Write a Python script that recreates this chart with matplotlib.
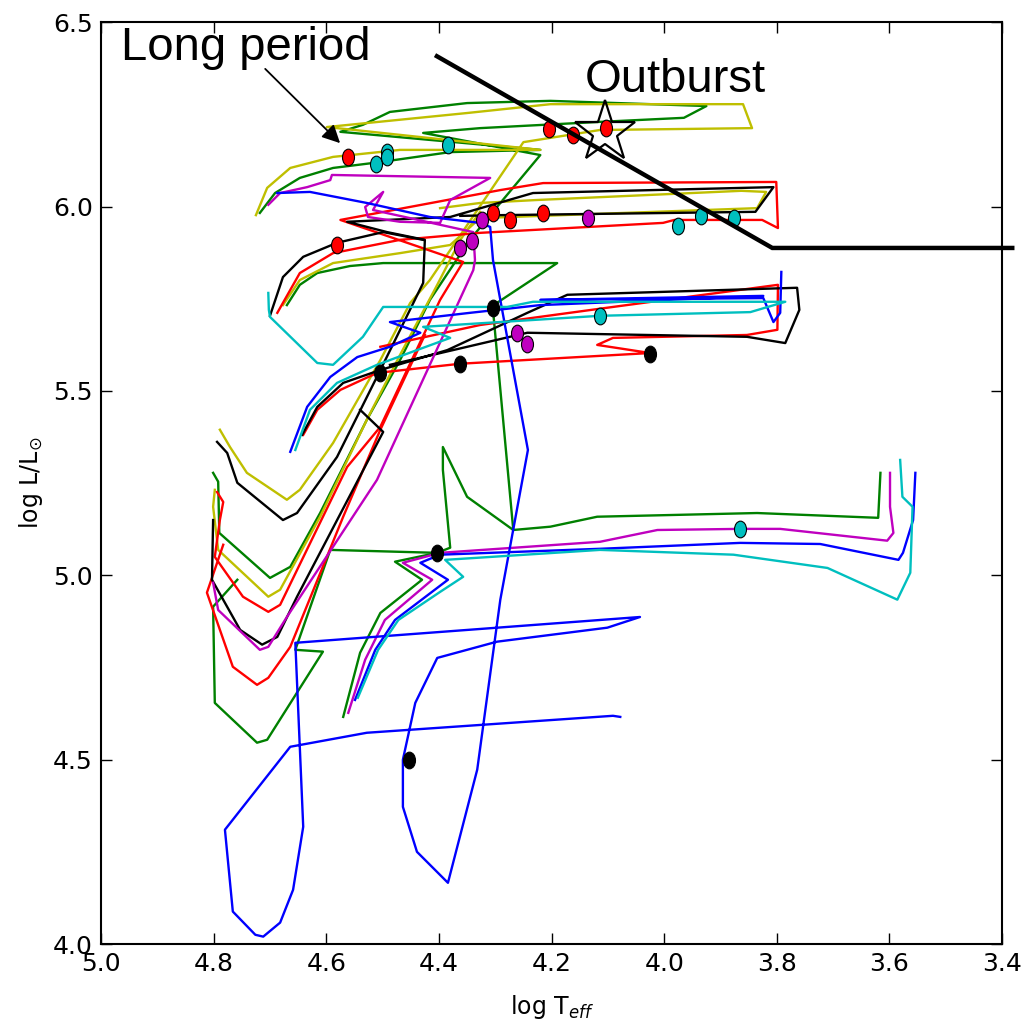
import numpy as np
import matplotlib
matplotlib.use("Agg")
import matplotlib.pyplot as plt
from matplotlib.path import Path

# ---------------- data (log Teff, log L) ----------------
# green tracks
g1_T = [4.718, 4.691, 4.647, 4.588, 4.504, 4.380, 4.220, 4.575, 4.535, 4.487, 4.350, 4.202, 3.925, 3.965, 4.114, 4.327, 4.428, 4.220, 4.297, 4.345, 4.416, 4.469, 4.528, 4.611, 4.664, 4.700, 4.790, 4.792, 4.801]
g1_L = [5.983, 6.037, 6.078, 6.105, 6.121, 6.148, 6.154, 6.203, 6.222, 6.257, 6.281, 6.287, 6.273, 6.241, 6.230, 6.213, 6.200, 6.140, 5.999, 5.910, 5.747, 5.584, 5.422, 5.169, 5.023, 4.993, 5.115, 5.254, 5.278]
g2_T = [4.670, 4.647, 4.616, 4.558, 4.499, 4.190, 4.297, 4.304, 4.268, 4.202, 4.119, 3.835, 3.620, 3.616]
g2_L = [5.733, 5.788, 5.820, 5.839, 5.847, 5.847, 5.739, 5.720, 5.123, 5.132, 5.159, 5.169, 5.156, 5.278]
g3_T = [4.570, 4.540, 4.504, 4.430, 4.478, 4.403, 4.380, 4.393, 4.393, 4.350, 4.268]
g3_L = [4.616, 4.790, 4.898, 4.988, 5.037, 5.061, 5.075, 5.286, 5.348, 5.213, 5.123]
g4_T = [4.758, 4.801, 4.798, 4.723, 4.705, 4.606, 4.655, 4.593, 4.403]
g4_L = [4.988, 4.915, 4.654, 4.546, 4.554, 4.793, 4.798, 5.069, 5.061]

# yellow tracks
y1_T = [4.725, 4.705, 4.664, 4.588, 4.469, 4.220, 4.599, 4.350, 4.202, 3.860, 3.844, 4.114, 4.250, 4.416, 4.451, 4.504, 4.588, 4.647, 4.670, 4.741, 4.771, 4.789]
y1_L = [5.977, 6.051, 6.105, 6.135, 6.154, 6.154, 6.216, 6.254, 6.278, 6.278, 6.213, 6.208, 6.175, 5.801, 5.739, 5.584, 5.359, 5.232, 5.205, 5.278, 5.348, 5.395]
y2_T = [4.677, 4.647, 4.588, 4.469, 4.380, 4.327, 3.835, 3.819, 3.863, 4.227, 4.327, 4.398]
y2_L = [5.733, 5.801, 5.847, 5.874, 5.896, 5.969, 5.996, 6.040, 6.043, 6.018, 6.010, 5.996]
y3_T = [4.798, 4.801, 4.792, 4.703, 4.682, 4.611, 4.528, 4.469, 4.403, 4.362, 4.327]
y3_L = [5.232, 5.186, 5.069, 4.942, 4.961, 5.159, 5.422, 5.598, 5.788, 5.910, 5.986]

# red tracks
r1_T = [4.687, 4.647, 4.588, 4.469, 4.327, 4.002, 3.982, 3.826, 3.798, 3.801, 4.215, 4.291, 4.575, 4.357, 4.398, 4.504, 4.563, 4.682, 4.703, 4.748, 4.798, 4.789, 4.783, 4.794]
r1_L = [5.712, 5.820, 5.874, 5.910, 5.929, 5.956, 5.964, 5.964, 5.942, 6.067, 6.064, 6.045, 5.964, 5.850, 5.747, 5.403, 5.294, 4.920, 4.901, 4.942, 5.050, 5.150, 5.199, 5.226]
r2_T = [4.641, 4.616, 4.575, 4.510, 4.362, 4.025, 4.119, 4.091, 3.853, 3.799, 3.798, 4.091, 4.327, 4.504]
r2_L = [5.381, 5.449, 5.503, 5.549, 5.574, 5.603, 5.625, 5.644, 5.652, 5.666, 5.788, 5.728, 5.679, 5.620]
r3_T = [4.783, 4.812, 4.766, 4.723, 4.703, 4.664, 4.570, 4.504, 4.425]
r3_L = [5.083, 4.953, 4.752, 4.703, 4.722, 4.806, 5.159, 5.395, 5.652]

# black tracks
k1_T = [4.794, 4.776, 4.758, 4.677, 4.652, 4.581, 4.504, 4.428, 4.425, 4.492, 4.563, 4.380, 4.233, 3.806, 3.838, 4.291, 4.362]
k1_L = [5.362, 5.332, 5.251, 5.150, 5.169, 5.321, 5.557, 5.793, 5.910, 5.931, 5.959, 5.972, 6.037, 6.053, 5.986, 5.977, 5.975]
k2_T = [4.700, 4.677, 4.641, 4.581, 4.499, 4.428]
k2_L = [5.704, 5.809, 5.864, 5.902, 5.931, 5.910]
k3_T = [4.643, 4.616, 4.570, 4.504, 4.385, 4.243, 4.172, 3.764, 3.760, 3.785, 3.853, 4.243, 4.487]
k3_L = [5.381, 5.457, 5.522, 5.557, 5.611, 5.712, 5.761, 5.780, 5.720, 5.630, 5.647, 5.658, 5.571]
k4_T = [4.801, 4.803, 4.753, 4.714, 4.687, 4.652, 4.499, 4.540]
k4_L = [5.150, 4.988, 4.852, 4.812, 4.833, 4.942, 5.389, 5.449]

# magenta tracks
m1_T = [4.703, 4.682, 4.634, 4.593, 4.590, 4.309, 4.380, 4.398, 4.469, 4.526, 4.531, 4.499, 4.517, 4.339, 4.336, 4.339, 4.510, 4.670, 4.703, 4.718, 4.792, 4.801]
m1_L = [6.005, 6.037, 6.053, 6.072, 6.086, 6.078, 6.018, 5.956, 5.959, 5.972, 5.999, 6.040, 5.991, 5.931, 5.855, 5.828, 5.259, 4.887, 4.806, 4.798, 4.906, 4.980]
m2_T = [4.561, 4.531, 4.496, 4.412, 4.464, 4.398, 4.114, 4.012, 3.865, 3.794, 3.604, 3.593, 3.599, 3.599]
m2_L = [4.627, 4.771, 4.879, 4.988, 5.034, 5.061, 5.091, 5.123, 5.126, 5.126, 5.094, 5.115, 5.186, 5.278]

# blue tracks
b1_T = [4.078, 4.091, 4.528, 4.664, 4.780, 4.766, 4.726, 4.712, 4.682, 4.659, 4.641, 4.655, 4.043, 4.101, 4.297, 4.403, 4.442, 4.464, 4.464, 4.439, 4.384, 4.332, 4.291, 4.242, 4.304, 4.309, 4.327, 4.416, 4.528, 4.629, 4.687]
b1_L = [4.616, 4.619, 4.573, 4.535, 4.310, 4.088, 4.025, 4.020, 4.058, 4.147, 4.318, 4.817, 4.887, 4.858, 4.820, 4.776, 4.654, 4.500, 4.372, 4.250, 4.166, 4.473, 4.934, 5.340, 5.855, 5.945, 5.956, 5.972, 6.010, 6.040, 6.037]
b2_T = [4.664, 4.634, 4.593, 4.545, 4.487, 4.433, 4.487, 4.345, 4.220, 3.824, 4.220, 3.824, 3.806, 3.794, 3.792]
b2_L = [5.335, 5.457, 5.538, 5.592, 5.620, 5.658, 5.687, 5.712, 5.733, 5.758, 5.747, 5.752, 5.687, 5.712, 5.823]
b3_T = [4.549, 4.513, 4.478, 4.384, 4.433, 4.398, 4.114, 3.865, 3.723, 3.584, 3.576, 3.558, 3.554]
b3_L = [4.662, 4.798, 4.879, 4.988, 5.034, 5.056, 5.072, 5.088, 5.085, 5.042, 5.061, 5.150, 5.278]

# cyan tracks
c1_T = [4.703, 4.702, 4.700, 4.616, 4.588, 4.535, 4.499, 4.279, 4.233, 3.785, 3.847, 4.114, 4.428, 4.380, 4.439, 4.510, 4.581, 4.629, 4.655]
c1_L = [5.766, 5.720, 5.701, 5.576, 5.571, 5.647, 5.728, 5.728, 5.742, 5.742, 5.714, 5.704, 5.674, 5.644, 5.611, 5.571, 5.522, 5.449, 5.340]
c2_T = [4.544, 4.508, 4.472, 4.398, 4.357, 4.389, 4.114, 3.877, 3.710, 3.586, 3.563, 3.559, 3.577, 3.581]
c2_L = [4.668, 4.798, 4.879, 4.955, 4.996, 5.042, 5.069, 5.056, 5.020, 4.934, 5.007, 5.186, 5.213, 5.313]

# marked points
red_pts_T = [4.561, 4.204, 4.162, 4.103, 4.581, 4.304, 4.274, 4.215]
red_pts_L = [6.135, 6.211, 6.194, 6.213, 5.896, 5.983, 5.964, 5.983]
cyan_pts_T = [4.512, 4.492, 4.492, 4.384, 3.975, 3.934, 3.876, 4.114, 3.865]
cyan_pts_L = [6.116, 6.148, 6.135, 6.167, 5.948, 5.975, 5.969, 5.704, 5.126]
mag_pts_T = [4.323, 4.341, 4.362, 4.135, 4.261, 4.243]
mag_pts_L = [5.964, 5.907, 5.888, 5.969, 5.658, 5.628]
blk_pts_T = [4.304, 4.504, 4.362, 4.025, 4.403, 4.453]
blk_pts_L = [5.725, 5.549, 5.573, 5.601, 5.061, 4.500]

# annotations
star_T, star_L = 4.105, 6.203
cut_T = [4.407, 3.808, 3.378]
cut_L = [6.411, 5.888, 5.888]
arrow_tail = (4.712, 6.379)
arrow_head = (4.572, 6.167)

x_ticks = [5.0, 4.8, 4.6, 4.4, 4.2, 4.0, 3.8, 3.6, 3.4]
y_ticks = [4.0, 4.5, 5.0, 5.5, 6.0, 6.5]

# ---------------- plotting ----------------
col = {'g': (0, 0.5, 0), 'y': (0.75, 0.75, 0), 'r': (1, 0, 0), 'k': (0, 0, 0),
       'm': (0.75, 0, 0.75), 'b': (0, 0, 1), 'c': (0, 0.75, 0.75)}

fig = plt.figure(figsize=(10.30, 10.29), dpi=100)
ax = fig.add_axes([0.0981, 0.0826, 0.8748, 0.8957])

tracks = [
    (g1_T, g1_L, 'g'), (g2_T, g2_L, 'g'), (g3_T, g3_L, 'g'), (g4_T, g4_L, 'g'),
    (y1_T, y1_L, 'y'), (y2_T, y2_L, 'y'), (y3_T, y3_L, 'y'),
    (r1_T, r1_L, 'r'), (r2_T, r2_L, 'r'), (r3_T, r3_L, 'r'),
    (k1_T, k1_L, 'k'), (k2_T, k2_L, 'k'), (k3_T, k3_L, 'k'), (k4_T, k4_L, 'k'),
    (m1_T, m1_L, 'm'), (m2_T, m2_L, 'm'),
    (b1_T, b1_L, 'b'), (b2_T, b2_L, 'b'), (b3_T, b3_L, 'b'),
    (c1_T, c1_L, 'c'), (c2_T, c2_L, 'c'),
]
for T, L, c in tracks:
    ax.plot(T, L, color=col[c], lw=1.7, zorder=2)

circ = Path.unit_circle()
ell = Path(circ.vertices * np.array([0.72, 1.0]), circ.codes)
for T, L, c in [(red_pts_T, red_pts_L, 'r'), (cyan_pts_T, cyan_pts_L, 'c'),
                (mag_pts_T, mag_pts_L, 'm'), (blk_pts_T, blk_pts_L, 'k')]:
    ax.plot(T, L, ls='none', marker=ell, markersize=12, markerfacecolor=col[c],
            markeredgecolor='k', markeredgewidth=0.8, zorder=5)

ax.plot([star_T], [star_L], marker='*', markersize=46, markerfacecolor='none',
        markeredgecolor='k', markeredgewidth=1.6, ls='none', zorder=6)

ax.plot(cut_T, cut_L, color='k', lw=3.2, clip_on=False, zorder=10,
        solid_capstyle='butt', solid_joinstyle='miter')

ax.annotate('', xy=arrow_head, xytext=arrow_tail,
            arrowprops=dict(arrowstyle='-|>', color='k', lw=1.3, mutation_scale=27),
            annotation_clip=False, zorder=10)

ax.set_xlim(5.0, 3.4)
ax.set_ylim(4.0, 6.5)
ax.set_xticks(x_ticks)
ax.set_xticklabels([f"{v:.1f}" for v in x_ticks])
ax.set_yticks(y_ticks)
ax.set_yticklabels([f"{v:.1f}" for v in y_ticks])
ax.tick_params(direction='in', length=8, width=1, top=True, right=True,
               labelsize=18, pad=6)
for s in ax.spines.values():
    s.set_linewidth(1.5)

ax.set_ylabel(r'log L/L$_{\odot}$', fontsize=17)
ax.yaxis.set_label_coords(-0.062, 0.5)
ax.set_xlabel(r'log T$_{eff}$', fontsize=17, va='top')
ax.xaxis.set_label_coords(0.5, -0.053)

fig.text(0.117, 0.9417, 'Long period', fontsize=34, family='Liberation Sans', va='baseline')
fig.text(0.568, 0.9106, 'Outburst', fontsize=34, family='Liberation Sans', va='baseline')

fig.savefig('out.png', dpi=100)
